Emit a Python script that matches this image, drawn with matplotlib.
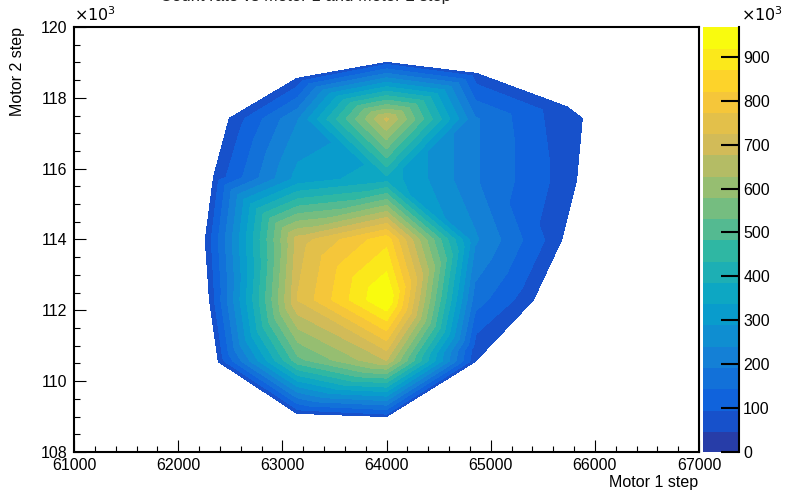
import numpy as np
import matplotlib
matplotlib.use("Agg")
import matplotlib.pyplot as plt
import matplotlib.tri as mtri
from matplotlib.colors import LinearSegmentedColormap
from matplotlib.ticker import MultipleLocator, FuncFormatter

plt.rcParams['font.family'] = ['Liberation Sans', 'DejaVu Sans']

# ---- data: scan points (motor 1 step, motor 2 step, counts) ----
motor1 = [64000, 63140, 64865, 62490, 62340, 62260, 62300, 62385, 63140, 64000,
          64850, 64865, 65410, 65680, 65825, 65880, 65730,
          63150, 64000, 64850,
          63150, 64000, 64850,
          63150, 64000, 64850,
          63150, 64000, 64850,
          63150, 64000]
motor2 = [119000, 118550, 118690, 117420, 115770, 114000, 112300, 110550, 109090, 109000,
          110550, 110920, 112290, 113980, 115680, 117420, 117750,
          117400, 117400, 117400,
          115700, 115700, 115700,
          114000, 114000, 114000,
          112300, 112300, 112300,
          110600, 110600]
counts = [75e3, 60e3, 65e3, 55e3, 60e3, 55e3, 60e3, 60e3, 60e3, 70e3,
          60e3, 65e3, 60e3, 60e3, 60e3, 60e3, 60e3,
          240e3, 690e3, 200e3,
          310e3, 370e3, 200e3,
          700e3, 855e3, 250e3,
          730e3, 975e3, 170e3,
          520e3, 680e3]

z_axis_max = 968e3
n_levels = 20

x_range = (61000, 67000)
y_range = (108000, 120000)

# ---- ROOT kBird palette ----
bird_stops = [0.0000, 0.1250, 0.2500, 0.3750, 0.5000, 0.6250, 0.7500, 0.8750, 1.0000]
bird_r = [0.2082, 0.0592, 0.0780, 0.0232, 0.1802, 0.5301, 0.8186, 0.9956, 0.9764]
bird_g = [0.1664, 0.3599, 0.5041, 0.6419, 0.7178, 0.7492, 0.7328, 0.7862, 0.9832]
bird_b = [0.5293, 0.8684, 0.8385, 0.7914, 0.6425, 0.4662, 0.3499, 0.1968, 0.0539]
bird = LinearSegmentedColormap.from_list(
    "bird", [(s, (r, g, b)) for s, r, g, b in zip(bird_stops, bird_r, bird_g, bird_b)])

band_colors = [bird(np.floor((i + 0.99) * 255 / n_levels) / 254) for i in range(n_levels)]
levels = np.linspace(0, z_axis_max, n_levels + 1)

x = np.array(motor1, float)
y = np.array(motor2, float)
z = np.array(counts, float)

# Delaunay on normalised coordinates (as ROOT TGraph2D does)
xn = (x - x.min()) / (x.max() - x.min())
yn = (y - y.min()) / (y.max() - y.min())
tri_n = mtri.Triangulation(xn, yn)
tri = mtri.Triangulation(x, y, tri_n.triangles)

fig = plt.figure(figsize=(7.85, 4.97), dpi=100)
W, H = 785, 497
ax = fig.add_axes([74 / W, 1 - 452 / H, 625 / W, 425 / H])
cax = fig.add_axes([703 / W, 1 - 452 / H, 36 / W, 425 / H])

fill_levels = list(levels[1:])
fill_levels[-1] = max(levels[-1], z.max() + 1)
ax.tricontourf(tri, z, levels=fill_levels, colors=band_colors[1:])

ax.set_xlim(*x_range)
ax.set_ylim(*y_range)
fs = 11.5
ax.xaxis.set_major_locator(MultipleLocator(1000))
ax.xaxis.set_minor_locator(MultipleLocator(200))
ax.yaxis.set_major_locator(MultipleLocator(2000))
ax.yaxis.set_minor_locator(MultipleLocator(500))
ax.xaxis.set_major_formatter(FuncFormatter(lambda v, p: f"{v:.0f}"))
ax.yaxis.set_major_formatter(FuncFormatter(lambda v, p: f"{v/1000:g}"))
ax.tick_params(which='both', direction='in', top=False, right=False, labelsize=fs, width=0.8)
ax.tick_params(which='major', length=8.5)
ax.tick_params(which='minor', length=4.3)
ax.tick_params(axis='x', pad=4)
ax.tick_params(axis='y', pad=5)
for s in ax.spines.values():
    s.set_linewidth(1.5)

ax.text(0.0, 1.008, r"$\times10^{3}$", transform=ax.transAxes, fontsize=fs,
        ha='left', va='bottom')
fig.text(698 / W, 1 - 483 / H, "Motor 1 step", ha='right', va='center', fontsize=fs)
fig.text(18 / W, 1 - 27 / H, "Motor 2 step", ha='center', va='top', rotation=90, fontsize=fs)

# colour palette axis
for i in range(n_levels):
    cax.bar(0.5, levels[i + 1] - levels[i], bottom=levels[i], width=1.0,
            color=band_colors[i], edgecolor=band_colors[i], linewidth=0.6,
            antialiased=False)
cax.set_xlim(0, 1)
cax.set_ylim(0, z_axis_max)
cax.yaxis.tick_right()
cax.yaxis.set_major_locator(MultipleLocator(100e3))
cax.yaxis.set_major_formatter(FuncFormatter(lambda v, p: f"{v/1000:g}"))
cax.tick_params(axis='y', direction='in', length=13, width=1.5, labelsize=fs, pad=3)
cax.set_xticks([])
for k in ['left', 'top', 'bottom']:
    cax.spines[k].set_visible(False)
cax.spines['right'].set_linewidth(1.5)
cax.text(1.05, 1.008, r"$\times10^{3}$", transform=cax.transAxes, fontsize=fs,
         ha='left', va='bottom')

fig.text(160 / W, 1 - 1.5 / H, "Count rate vs Motor 1 and Motor 2 step",
         ha='left', va='baseline', fontsize=12, color='#222222')

fig.savefig("out.png", dpi=100)
